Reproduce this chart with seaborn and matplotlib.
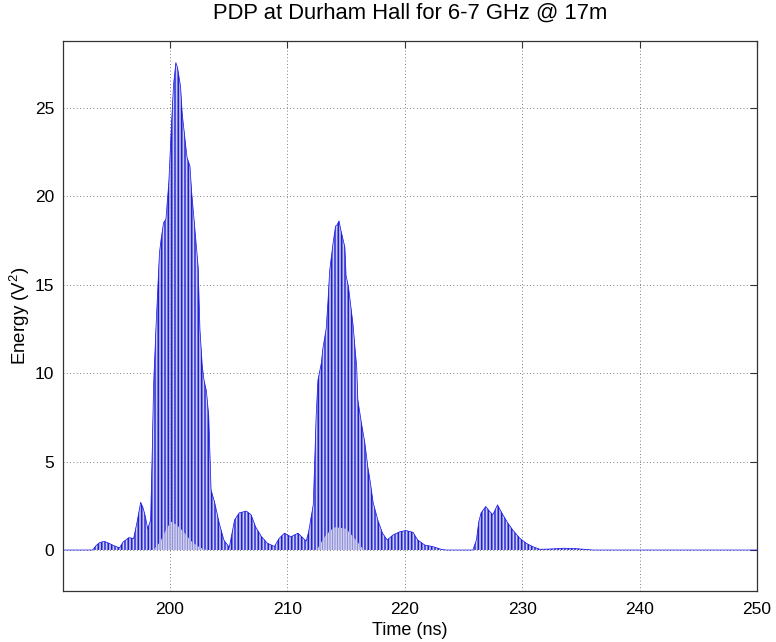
import numpy as np
import pandas as pd
import matplotlib
matplotlib.use("Agg")
import matplotlib.pyplot as plt
import seaborn as sns

# Upper envelope of the power delay profile (time in ns, energy in V^2)
time_ns = [191.0, 193.4, 193.7, 194.0, 194.4, 194.8, 195.2, 195.7, 196.0, 196.5,
           196.9, 197.2, 197.5, 197.7, 197.9, 198.1, 198.35, 198.5, 198.6, 198.8,
           199.1, 199.25, 199.45, 199.65, 199.9, 200.1, 200.3, 200.5, 200.65, 200.9,
           201.05, 201.25, 201.45, 201.7, 201.85, 202.1, 202.4, 202.55, 202.75, 202.9,
           203.1, 203.3, 203.5, 203.8, 204.2, 204.6, 205.05, 205.5, 205.9, 206.5,
           206.9, 207.3, 207.8, 208.3, 208.9, 209.3, 209.75, 210.3, 210.9, 211.6,
           211.8, 212.2, 212.3, 212.45, 212.6, 212.9, 213.0, 213.3, 213.45, 213.6,
           213.9, 214.1, 214.25, 214.4, 214.55, 214.9, 215.0, 215.2, 215.4, 215.6,
           215.75, 215.9, 216.0, 216.3, 216.6, 216.85, 217.05, 217.3, 217.7, 218.1,
           218.5, 219.0, 219.6, 220.1, 220.7, 221.1, 221.7, 222.4, 223.1, 223.5,
           225.8, 226.1, 226.3, 226.5, 226.9, 227.2, 227.5, 227.9, 228.35, 228.8,
           229.2, 229.8, 230.35, 230.9, 231.5, 232.5, 233.5, 234.5, 235.5, 236.0,
           250.0]
energy_peak = [0.0, 0.0, 0.25, 0.42, 0.49, 0.38, 0.25, 0.12, 0.45, 0.7,
               0.65, 1.6, 2.7, 2.4, 1.9, 1.2, 1.7, 6.0, 9.3, 12.5,
               16.8, 17.6, 18.5, 18.7, 20.8, 23.7, 26.3, 27.55, 27.25, 26.2,
               24.6, 23.4, 22.2, 21.7, 20.2, 18.3, 16.0, 12.5, 10.4, 9.6,
               9.0, 7.6, 3.4, 2.7, 1.5, 0.55, 0.15, 1.7, 2.1, 2.2,
               2.0, 1.3, 0.75, 0.38, 0.2, 0.66, 0.95, 0.75, 0.95, 0.5,
               1.0, 2.55, 4.5, 7.6, 9.6, 10.6, 11.3, 12.5, 14.0, 15.8,
               17.4, 18.3, 18.4, 18.6, 18.1, 17.1, 15.5, 14.9, 13.8, 12.7,
               11.5, 10.4, 8.5, 7.2, 6.05, 4.7, 3.9, 2.7, 1.7, 0.95,
               0.57, 0.85, 1.04, 1.1, 1.0, 0.57, 0.28, 0.19, 0.04, 0.0,
               0.0, 0.57, 1.6, 2.1, 2.46, 2.2, 2.0, 2.55, 2.0, 1.5,
               1.13, 0.66, 0.38, 0.19, 0.04, 0.06, 0.1, 0.08, 0.03, 0.0,
               0.0]

# Lower envelope (troughs of the fast oscillation) under the two main arrivals
trough_time_ns = [191.0, 198.6, 199.2, 199.7, 200.1, 200.6, 201.2, 201.8, 202.4, 203.0,
                  212.5, 213.2, 214.0, 215.0, 215.8, 216.5, 250.0]
energy_trough = [0.0, 0.0, 0.5, 1.2, 1.6, 1.4, 1.0, 0.5, 0.2, 0.0,
                 0.0, 0.8, 1.3, 1.2, 0.6, 0.0, 0.0]

x_ticks = [200, 210, 220, 230, 240, 250]
y_ticks = [0, 5, 10, 15, 20, 25]

sns.set_style("white")
plt.rcParams["font.family"] = ["Liberation Sans", "DejaVu Sans"]
plt.rcParams["mathtext.default"] = "regular"
plt.rcParams["hatch.linewidth"] = 0.8
plt.rcParams["text.color"] = "black"
plt.rcParams["axes.labelcolor"] = "black"

df = pd.DataFrame({"t": time_ns, "e": energy_peak})
lower_on_grid = np.interp(np.array(time_ns), trough_time_ns, energy_trough)

fig = plt.figure(figsize=(7.76, 6.42), dpi=100)
ax = fig.add_axes([0.0808, 0.0802, 0.9755 - 0.0808, 0.9361 - 0.0802])

# dense oscillation rendered as vertical strokes inside the envelopes
ax.fill_between(df["t"], 0, df["e"], facecolor="none", edgecolor="#9090d8",
                hatch="|" * 10, linewidth=0, zorder=2)
ax.fill_between(df["t"], lower_on_grid, df["e"], facecolor="none", edgecolor="#0808e0",
                hatch="|" * 5, linewidth=0, zorder=3)
sns.lineplot(data=df, x="t", y="e", ax=ax, color="#1010e8", linewidth=0.5, zorder=4)

ax.set_xlim(190.86, 250)
ax.set_ylim(-2.29, 28.77)
ax.set_xticks(x_ticks)
ax.set_yticks(y_ticks)
ax.grid(True, linestyle=(0, (1, 3)), color="#555555", linewidth=0.6)
ax.set_axisbelow(True)
for s in ax.spines.values():
    s.set_color("#333333")
    s.set_linewidth(0.9)
ax.tick_params(direction="in", length=5, width=0.8, colors="#333333",
               top=True, right=True, labelsize=12.5, labelcolor="black", pad=6)
ax.tick_params(axis="x", pad=8)

ax.set_title("PDP at Durham Hall for 6-7 GHz @ 17m", fontsize=15.8, pad=16, color="black")
ax.set_xlabel("Time (ns)", fontsize=13, labelpad=4)
ax.set_ylabel("Energy (V$^{2}$)", fontsize=13.5, labelpad=2)

fig.savefig("out.png", dpi=100)
